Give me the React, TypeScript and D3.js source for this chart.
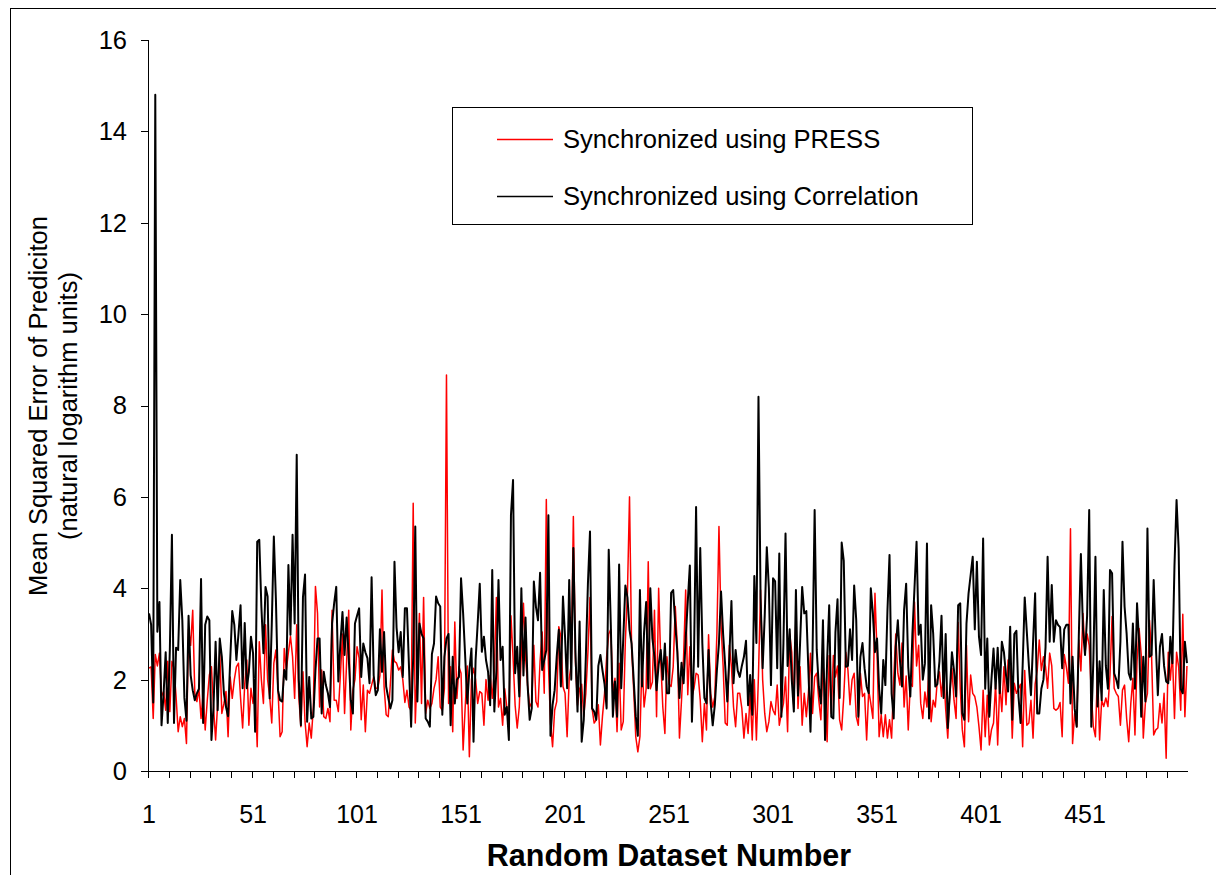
import React from "react";
import * as d3 from "d3";

// Series 1: Synchronized using PRESS (red)
const pressValues: number[] = [
  2.25,2.28,1.15,2.55,2.3,2.58,1.63,1.74,1.33,2.4, 1.3,2.4,2.25,1.63,0.86,1.19,0.97,1.15,0.6,3.1, 2.75,3.52,1.7,1.52,1.8,1.15,1.7,0.9,1.55,2.1, 2.28,1.4,0.68,1.48,2.6,1.26,1.48,1.74,0.75,2.06,
  1.59,2.0,2.28,2.36,1.6,0.94,1.9,2.43,1.0,1.81, 1.48,1.81,0.53,2.83,2.0,1.48,3.2,2.0,1.63,1.05, 2.36,2.65,1.77,0.75,0.86,2.68,2.21,2.6,2.95,2.5, 1.59,3.2,1.63,0.97,2.17,1.08,0.53,1.05,0.72,1.4, 4.04,3.45,
  1.4,2.21,1.19,1.15,1.37,1.08,3.52,1.55,1.55,1.3, 2.1,3.0,1.26,2.4,3.52,0.9,1.77,2.0,2.72,2.47, 1.12,1.88,0.86,1.77,1.7,1.88,2.06,1.81,1.81,2.09, 3.96,1.85,1.23,1.19,1.9,2.65,2.4,2.36,2.21,2.28, 2.0,1.5,
  1.77,1.4,1.33,5.86,1.05,2.28,3.45,1.48,3.8,1.26, 1.55,1.37,1.48,1.81,2.0,2.5,1.4,1.33,1.81,8.67, 1.48,2.28,0.86,3.26,1.59,2.28,2.14,0.46,1.4,2.3, 0.31,2.0,2.25,2.0,1.48,1.74,1.7,1.0,2.0,1.55, 2.09,1.59,
  2.2,3.8,1.4,1.59,1.0,1.8,1.4,1.0,3.4,2.5, 1.44,0.94,1.4,2.6,3.67,2.5,1.88,1.4,1.5,2.75, 1.52,1.4,2.4,3.04,1.7,5.94,2.36,1.05,0.53,1.33, 1.52,3.16,2.94,1.85,1.7,0.75,2.03,2.33,5.57,2.4, 1.44,1.8,
  1.9,1.2,1.7,2.6,3.8,1.37,1.05,1.12,1.45,0.57, 1.2,1.7,2.5,3.0,3.1,1.7,2.03,0.86,2.36,0.9, 1.08,2.85,3.9,6.0,2.7,1.77,0.75,0.42,0.75,2.43, 1.4,1.8,4.58,1.8,1.95,3.52,1.19,4.0,2.43,1.4, 0.82,2.5,
  1.9,1.85,2.28,3.6,2.72,0.72,1.55,2.5,3.96,1.67, 2.72,1.63,1.81,2.14,2.1,1.55,0.64,1.48,0.9,2.98, 1.7,1.4,1.63,3.0,5.35,3.2,2.3,1.05,1.0,2.75, 2.28,1.4,0.97,1.7,1.7,1.37,0.72,1.26,0.82,1.7, 0.68,2.0,
  0.68,2.1,3.96,2.0,1.26,0.86,1.08,1.52,1.33,1.23, 1.88,1.0,1.26,1.48,2.06,0.86,3.0,2.6,1.37,3.4, 1.37,2.28,1.0,1.7,1.19,1.7,2.58,1.26,2.06,2.14, 1.55,1.12,2.33,1.9,0.64,2.53,1.26,2.53,2.06,2.3, 1.12,0.9,
  1.63,2.6,2.21,1.45,2.0,2.14,1.19,1.0,2.14,1.63, 1.7,0.68,1.77,1.48,1.15,3.89,2.6,0.75,1.23,0.75, 1.23,0.72,1.12,0.72,2.0,3.0,2.14,1.88,2.8,1.4, 2.08,0.9,1.92,1.85,3.7,2.3,2.75,1.48,1.15,1.73, 1.4,2.28,
  1.08,1.55,1.4,2.0,2.17,1.63,2.2,1.35,0.72,1.7, 2.25,1.55,1.15,3.25,1.81,0.9,0.53,2.75,1.08,2.1, 1.7,1.63,1.4,0.97,0.46,1.77,0.75,1.66,0.57,0.9, 1.05,1.92,0.57,1.92,1.3,2.28,1.45,2.43,2.21,0.72, 1.92,1.7,
  1.8,1.9,0.53,2.2,1.0,1.05,1.55,0.72,1.9,2.2, 2.87,2.2,2.5,2.28,1.81,2.58,2.3,1.37,1.33,1.37, 1.5,0.75,2.55,2.28,1.92,5.3,0.6,1.26,0.97,2.87, 2.19,3.45,2.58,3.0,2.75,1.7,0.97,0.75,2.25,0.68, 1.55,1.41,
  1.6,1.41,2.1,3.38,1.81,1.7,1.63,1.0,1.77,1.88, 1.15,0.64,1.48,2.03,0.79,2.4,3.12,2.55,0.72,1.48, 1.7,3.3,2.5,0.79,0.9,0.94,1.48,1.05,1.7,0.28, 2.6,1.99,2.6,1.15,2.6,2.28,1.33,3.43,1.19,2.3,
];

// Series 2: Synchronized using Correlation (black)
const correlationValues: number[] = [
  3.45,3.2,1.5,14.8,3.05,3.7,1.0,1.7,2.6,1.05, 2.65,5.17,1.05,2.7,2.65,4.18,3.3,1.6,1.1,3.4, 2.1,1.77,1.55,1.7,1.8,4.2,1.05,3.2,3.38,3.3, 0.68,1.4,2.83,1.33,2.9,2.5,1.7,1.4,1.2,2.4,
  3.5,3.2,2.43,3.0,3.63,1.81,3.24,1.81,2.17,2.94, 2.58,0.86,5.02,5.06,3.6,2.58,4.03,3.82,1.59,3.2, 5.13,3.74,1.77,1.55,1.52,2.21,2.0,4.51,2.98,5.17, 3.23,6.92,2.0,1.0,3.8,4.3,1.08,2.06,1.15,1.19, 2.2,2.9,
  2.9,1.26,2.17,1.88,1.7,1.4,3.23,3.67,4.03,1.96, 2.8,3.48,2.54,3.36,2.49,1.55,1.26,3.23,3.4,3.56, 2.06,2.79,2.6,2.47,1.92,4.24,2.09,1.66,1.77,3.1, 2.17,3.04,1.85,1.6,1.37,1.55,4.58,3.14,2.6,3.04, 2.06,3.56,
  3.56,2.25,0.97,2.5,5.35,1.52,3.23,3.0,2.9,1.15, 1.08,0.97,2.56,2.79,3.82,3.67,3.6,1.23,2.5,2.9, 3.0,1.0,2.5,1.48,2.0,2.06,4.22,3.45,2.5,1.48, 2.21,2.68,0.64,2.43,3.23,4.1,2.61,2.94,2.43,2.17, 1.44,4.4,
  1.3,2.2,4.18,2.43,2.72,1.23,1.4,0.68,5.6,6.37, 2.14,2.72,1.63,4.0,2.09,3.36,1.88,1.12,1.37,4.15, 3.6,3.3,4.34,2.21,2.43,2.65,5.6,0.77,1.44,1.77, 2.5,3.09,1.85,3.82,2.94,1.81,4.18,2.0,4.88,2.6, 1.3,3.27,
  0.64,1.12,2.5,4.1,5.24,1.37,1.3,1.12,2.3,2.54, 2.2,1.9,1.37,4.84,3.2,1.19,1.96,1.19,4.52,1.81, 2.9,4.06,3.8,3.09,2.79,2.0,1.2,0.77,3.96,1.85, 3.04,3.7,1.81,4.0,2.9,2.5,1.77,2.33,2.65,2.0, 2.79,1.7,
  1.7,3.9,3.96,3.2,2.6,1.6,2.37,1.92,2.9,3.7, 4.5,1.08,2.5,5.78,2.28,4.88,2.8,1.6,1.48,2.65, 1.5,1.0,1.44,2.2,2.8,3.93,3.0,2.3,1.52,2.5, 3.72,1.92,2.65,2.2,2.06,2.3,2.5,2.85,1.44,2.1, 1.23,4.27,
  2.8,8.19,3.8,2.25,3.4,4.9,4.0,1.88,4.22,4.15, 2.25,4.76,1.19,2.8,5.2,2.3,3.1,2.0,1.3,3.96, 1.65,2.8,4.03,3.45,3.5,2.2,0.86,2.6,5.71,2.65, 1.85,1.48,3.3,0.68,2.4,3.63,1.19,1.15,3.04,3.76, 1.6,5.0,
  4.6,2.28,2.3,3.1,2.43,4.06,3.3,1.19,2.5,2.8, 2.25,1.85,1.7,4.0,3.45,2.6,2.9,1.8,1.26,2.43, 1.88,3.5,4.73,1.7,1.15,2.72,3.3,2.43,1.85,3.52, 4.1,2.28,1.63,3.0,4.0,5.02,2.98,3.2,2.0,2.35, 4.98,1.15,
  3.63,3.0,1.85,1.9,2.4,3.4,1.6,3.0,0.94,1.7, 2.6,2.2,1.63,3.63,3.67,1.26,1.12,3.23,3.89,4.29, 4.69,3.1,4.58,2.94,2.54,5.09,1.8,2.9,1.19,2.0, 2.68,1.8,2.7,1.7,2.83,2.6,2.1,1.74,3.16,1.12, 3.0,3.07,
  1.63,1.05,2.3,3.8,3.05,2.3,1.66,2.8,3.89,1.26, 1.26,1.8,2.0,2.7,4.69,2.83,4.07,2.83,3.3,3.2, 3.15,2.25,3.1,3.2,3.2,1.48,2.5,1.37,0.97,2.94, 4.75,3.1,2.54,3.4,5.71,0.97,2.43,4.69,1.41,2.4, 1.55,3.96,
  2.3,1.8,4.4,4.33,2.14,2.0,1.81,2.83,5.02,3.6, 3.0,2.14,2.0,3.23,1.8,3.67,2.8,1.19,2.5,1.52, 5.31,2.5,2.54,4.18,2.8,1.66,2.72,3.0,2.3,1.96, 1.92,2.94,2.36,4.5,5.93,4.87,1.8,1.7,2.83,2.36,
];

const categoryCount = 500;
const xTickLabels = ["1", "51", "101", "151", "201", "251", "301", "351", "401", "451"];
const yTicks = [0, 2, 4, 6, 8, 10, 12, 14, 16];
const seriesNames = ["Synchronized using PRESS", "Synchronized using Correlation"];
const seriesColors = ["#ff0000", "#000000"];

const FONT = "'Liberation Sans', Arial, Helvetica, sans-serif";

export default function App() {
  const W = 1216, H = 875;
  const left = 148, right = 1188, top = 40, bottom = 771;
  const categories = d3.range(1, categoryCount + 1);
  const x = d3.scaleBand<number>().domain(categories).range([left, right]).padding(0);
  const bw = x.bandwidth();
  const cx = (n: number) => (x(n) as number) + bw / 2;
  const y = d3.scaleLinear().domain([0, 16]).range([bottom, top]);

  const line = d3
    .line<number>()
    .x((_, i) => cx(i + 1))
    .y((d) => y(d));

  const tickCats = d3.range(0, categoryCount, 10);

  return (
    <svg
      width={W}
      height={H}
      style={{ position: "absolute", left: 0, top: 0, background: "#fff" }}
      fontFamily={FONT}
    >
      <rect x={0} y={0} width={W} height={H} fill="#fff" />
      <rect x={10.5} y={8.5} width={W + 20} height={H + 20} fill="none" stroke="#000" strokeWidth={1} />

      <path d={line(pressValues) || ""} fill="none" stroke={seriesColors[0]} strokeWidth={1.5} strokeLinejoin="round" />
      <path d={line(correlationValues) || ""} fill="none" stroke={seriesColors[1]} strokeWidth={2} strokeLinejoin="round" />

      <line x1={left + 0.5} x2={left + 0.5} y1={top} y2={bottom} stroke="#000" />
      {yTicks.map((t) => (
        <g key={t}>
          <line x1={left - 7} x2={left} y1={Math.round(y(t)) + 0.5} y2={Math.round(y(t)) + 0.5} stroke="#000" />
          <text x={127} y={y(t)} dy="0.35em" textAnchor="end" fontSize={25.5} fill="#000">
            {t}
          </text>
        </g>
      ))}

      <line x1={left} x2={right} y1={bottom + 0.5} y2={bottom + 0.5} stroke="#000" />
      {tickCats.map((k) => {
        const xx = Math.round(x(k + 1) as number) + 0.5;
        return <line key={k} x1={xx} x2={xx} y1={bottom} y2={bottom + 7} stroke="#000" />;
      })}
      {xTickLabels.map((lab) => (
        <text key={lab} x={cx(+lab)} y={823} textAnchor="middle" fontSize={25} fill="#000">
          {lab}
        </text>
      ))}

      <text x={669} y={866} textAnchor="middle" fontSize={30.5} fontWeight="bold" fill="#000">
        Random Dataset Number
      </text>
      <g transform="translate(47,406) rotate(-90)">
        <text x={0} y={0} textAnchor="middle" fontSize={25.5} fill="#000">
          Mean Squared Error of Prediciton
        </text>
      </g>
      <g transform="translate(77,406) rotate(-90)">
        <text x={0} y={0} textAnchor="middle" fontSize={25.5} fill="#000">
          (natural logarithm units)
        </text>
      </g>

      <rect x={452.5} y={107.5} width={520} height={117} fill="#fff" stroke="#000" />
      {seriesNames.map((name, i) => {
        const ly = 139 + i * 57;
        return (
          <g key={name}>
            <line x1={497} x2={553} y1={ly + 0.5} y2={ly + 0.5} stroke={seriesColors[i]} strokeWidth={1.5} />
            <text x={563} y={ly} dy="0.35em" fontSize={25.6} fill="#000">
              {name}
            </text>
          </g>
        );
      })}
    </svg>
  );
}
